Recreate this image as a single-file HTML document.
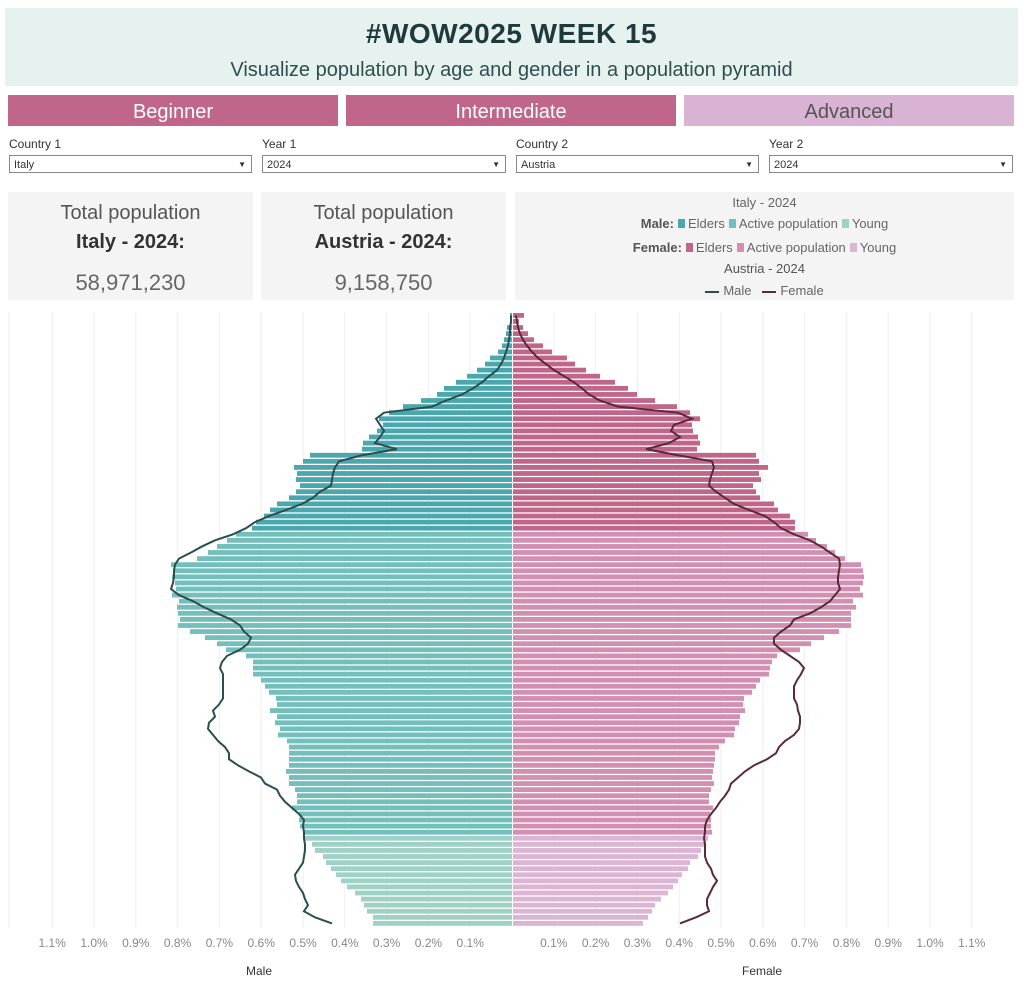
<!DOCTYPE html>
<html><head><meta charset="utf-8"><style>
body{margin:0;width:1024px;height:983px;background:#fff;font-family:"Liberation Sans",sans-serif;position:relative;overflow:hidden}
.a{position:absolute}
.hdr{left:5px;top:8px;width:1013px;height:78px;background:#e6f2ef}
.t1{width:100%;text-align:center;top:10px;font-size:28px;font-weight:bold;color:#1f3a3a;letter-spacing:0.5px}
.t2{width:100%;text-align:center;top:51px;font-size:20px;color:#2f4f4f}
.btn{top:95px;height:31px;line-height:35px;text-align:center;font-size:20px;color:#fff;background:#c0668a}
.lbl{top:137px;font-size:12px;color:#333}
.dd{top:155px;height:18px;border:1px solid #888;font-size:11px;color:#333;line-height:18px;padding-left:4px;box-sizing:border-box;background:#fff}
.dd:after{content:"▼";position:absolute;right:5px;top:0;font-size:8px}
.kpi{top:192px;height:108px;background:#f4f4f4;text-align:center}
.k1{position:absolute;top:10px;width:100%;font-size:20px;color:#555}
.k2{position:absolute;top:39px;width:100%;font-size:20px;font-weight:bold;color:#333}
.k3{position:absolute;top:78px;width:100%;font-size:22px;color:#666}
.lg{width:100%;text-align:center;font-size:13px;color:#666;position:absolute}
.sq{display:inline-block;width:7px;height:9px;margin:0 3px 0 4px}
</style></head><body>
<div class="a hdr"><div class="a t1">#WOW2025 WEEK 15</div><div class="a t2">Visualize population by age and gender in a population pyramid</div></div>
<div class="a btn" style="left:8px;width:330px">Beginner</div>
<div class="a btn" style="left:346px;width:330px">Intermediate</div>
<div class="a btn" style="left:684px;width:330px;background:#d8b3d3;color:#555">Advanced</div>
<div class="a lbl" style="left:9px">Country 1</div><div class="a lbl" style="left:262px">Year 1</div>
<div class="a lbl" style="left:516px">Country 2</div><div class="a lbl" style="left:769px">Year 2</div>
<div class="a dd" style="left:9px;width:243px">Italy</div><div class="a dd" style="left:262px;width:244px">2024</div>
<div class="a dd" style="left:516px;width:243px">Austria</div><div class="a dd" style="left:769px;width:244px">2024</div>
<div class="a kpi" style="left:8px;width:245px"><div class="k1">Total population</div><div class="k2">Italy - 2024:</div><div class="k3">58,971,230</div></div>
<div class="a kpi" style="left:261px;width:245px"><div class="k1">Total population</div><div class="k2">Austria - 2024:</div><div class="k3">9,158,750</div></div>
<div class="a kpi" style="left:515px;width:499px">
<div class="lg" style="top:3px">Italy - 2024</div>
<div class="lg" style="top:24px"><b style="color:#555">Male:</b><span class="sq" style="background:#4aa7ad"></span>Elders<span class="sq" style="background:#72bfbb"></span>Active population<span class="sq" style="background:#9fd1c6"></span>Young</div>
<div class="lg" style="top:48px"><b style="color:#555">Female:</b><span class="sq" style="background:#c0668a"></span>Elders<span class="sq" style="background:#d28fb2"></span>Active population<span class="sq" style="background:#dcb5d4"></span>Young</div>
<div class="lg" style="top:69px;color:#555">Austria - 2024</div>
<div class="lg" style="top:91px"><span style="display:inline-block;width:14px;height:2px;background:#2a4f4f;vertical-align:middle;margin-right:4px"></span>Male&nbsp;&nbsp;&nbsp;<span style="display:inline-block;width:14px;height:2px;background:#5a2a3a;vertical-align:middle;margin-right:4px"></span>Female</div>
</div>
<svg class="a" style="left:0;top:0" width="1024" height="983" id="s"></svg>
<script>
var mB=[2,2,5,6,8,10,14,22,27,35,45,56,68,75,91,109,123,133,129,135,143,149,150,202,209,218,215,216,212,216,223,235,242,248,256,260,276,285,295,304,315,341,339,340,337,336,340,333,335,334,332,334,322,307,295,286,266,259,259,259,251,247,243,236,235,242,235,237,232,234,225,223,223,223,223,226,223,223,217,215,215,220,213,213,212,209,208,200,197,189,186,181,176,171,165,157,151,148,145,139,139];
var fB=[11,6,10,15,21,30,39,54,62,73,87,102,115,124,142,164,177,187,179,180,185,187,184,243,246,255,246,248,240,243,247,261,265,277,282,282,295,303,314,322,332,348,350,351,350,347,350,340,343,338,338,338,326,311,298,287,264,259,257,256,247,243,239,231,230,232,227,226,222,221,212,206,202,202,201,200,199,201,198,196,196,200,197,198,198,199,195,193,188,185,177,175,169,165,160,155,148,142,139,135,130];
var mL=[1,1,2,2,3,4,6,8,11,15,23,30,39,50,66,80,128,136,132,128,132,137,115,150,173,177,179,180,181,192,199,210,226,243,257,266,279,297,310,321,333,337,338,338,339,341,333,319,308,295,281,272,268,261,264,272,285,290,292,289,289,289,289,289,293,299,297,303,304,299,294,287,283,283,274,263,251,247,235,232,227,220,213,208,209,208,208,207,207,208,209,213,217,216,213,209,207,204,208,197,180];
var fL=[4,5,6,8,11,15,20,26,34,42,52,62,70,77,88,106,166,180,162,159,168,157,134,166,200,202,200,198,197,204,213,222,237,253,262,269,282,298,309,318,327,328,327,326,326,328,323,318,309,298,282,278,269,262,262,269,278,287,292,289,285,282,282,282,285,286,288,288,287,282,273,267,264,255,242,233,226,219,217,213,208,204,199,195,193,193,192,193,193,193,195,199,201,205,201,198,195,195,197,184,168];
var C=512,P=6.08,T=313,h='';
for(var k=1;k<=11;k++){[C-41.8*k,C+41.8*k].forEach(function(x){h+='<line x1="'+x+'" y1="312" x2="'+x+'" y2="928" stroke="#eee"/>';h+='<text x="'+x+'" y="947" text-anchor="middle" font-size="12" fill="#888">'+(k/10).toFixed(1)+'%</text>';});}
h+='<line x1="9" y1="312" x2="9" y2="928" stroke="#eee"/>';
var pm='',pf='';
for(var i=0;i<=100;i++){var age=100-i,y=T+i*P;
var mc=age>=65?'#4aa7ad':age>=15?'#72bfbb':'#9fd1c6';
var fc=age>=65?'#c0668a':age>=15?'#d28fb2':'#dcb5d4';
h+='<rect x="'+(C-mB[i])+'" y="'+y+'" width="'+mB[i]+'" height="4.8" fill="'+mc+'"/>';
h+='<rect x="'+(C+1)+'" y="'+y+'" width="'+fB[i]+'" height="4.8" fill="'+fc+'"/>';
pm+=(i?'L':'M')+(C-mL[i])+','+(y+2.4);pf+=(i?'L':'M')+(C+fL[i])+','+(y+2.4);}
h+='<path d="'+pm+'" fill="none" stroke="#2a4f4f" stroke-width="2"/>';
h+='<path d="'+pf+'" fill="none" stroke="#5a2a3a" stroke-width="2"/>';
h+='<text x="259" y="975" text-anchor="middle" font-size="12" fill="#333">Male</text>';
h+='<text x="762" y="975" text-anchor="middle" font-size="12" fill="#333">Female</text>';
document.getElementById('s').innerHTML=h;
</script>
</body></html>
